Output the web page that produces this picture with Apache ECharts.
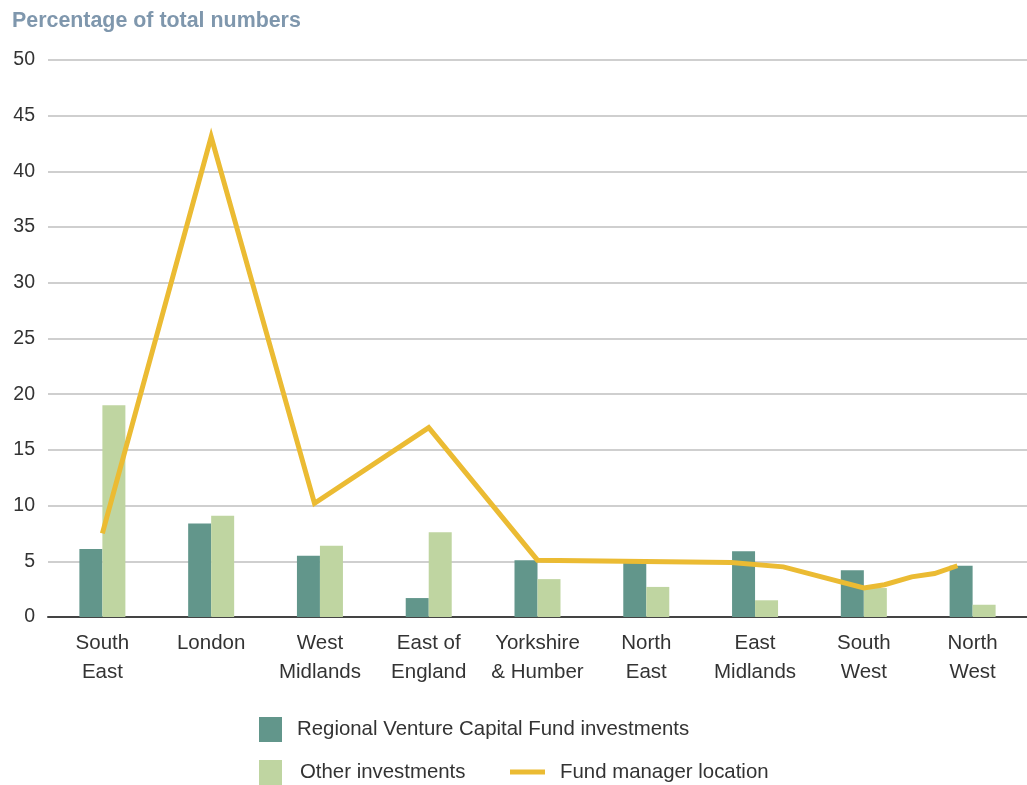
<!DOCTYPE html>
<html>
<head>
<meta charset="utf-8">
<script src="https://cdn.jsdelivr.net/npm/echarts@6/dist/echarts.min.js"></script>
<style>
html,body{margin:0;padding:0;background:#fff;}
#chart{width:1027px;height:785px;}
</style>
</head>
<body>
<div id="chart"></div>
<script>
const categories = ["South\nEast","London","West\nMidlands","East of\nEngland","Yorkshire\n& Humber","North\nEast","East\nMidlands","South\nWest","North\nWest"];
const rvcfValues = [6.1, 8.4, 5.5, 1.7, 5.1, 4.9, 5.9, 4.2, 4.6];
const otherValues = [19.0, 9.1, 6.4, 7.6, 3.4, 2.7, 1.5, 2.6, 1.1];
// Fund manager location line: positions along the category scale (index units) and values
const lineX = [0, 1, 1.95, 3, 4, 5.78, 6.26, 7.0, 7.19, 7.44, 7.65, 7.86];
const lineY = [7.5, 43.1, 10.2, 17.0, 5.1, 4.9, 4.5, 2.6, 2.9, 3.6, 3.9, 4.6];
const yTicks = {min: 0, max: 50, interval: 5};
const seriesNames = ["Regional Venture Capital Fund investments", "Other investments", "Fund manager location"];

const FONT = "'Liberation Sans', Arial, sans-serif";
const chart = echarts.init(document.getElementById('chart'));
chart.setOption({
  animation: false,
  textStyle: {fontFamily: FONT},
  title: {
    text: "Percentage of total numbers",
    left: 7, top: 6,
    textStyle: {fontFamily: FONT, fontSize: 21.4, fontWeight: 'bold', color: '#7f97ad'}
  },
  legend: [
    {data: [seriesNames[0]], left: 254, top: 712, itemWidth: 23, itemHeight: 25,
     icon: 'rect', textStyle: {fontFamily: FONT, fontSize: 20.4, color: '#333', padding: [0,0,0,10]}},
    {data: [seriesNames[1]], left: 254, top: 755, itemWidth: 23, itemHeight: 25,
     icon: 'rect', textStyle: {fontFamily: FONT, fontSize: 20.4, color: '#333', padding: [0,0,0,13]}},
    {data: [seriesNames[2]], left: 505, top: 757, itemWidth: 35, itemHeight: 5,
     icon: 'rect', textStyle: {fontFamily: FONT, fontSize: 20.4, color: '#333', padding: [0,0,0,10]}}
  ],
  grid: {left: 48, right: -8, top: 60, bottom: 168, containLabel: false},
  xAxis: [
    {type: 'category', data: categories,
     axisLine: {show: true, lineStyle: {color: '#444', width: 2}},
     axisTick: {show: false},
     axisLabel: {fontFamily: FONT, fontSize: 20.5, color: '#333', lineHeight: 29, margin: 12, interval: 0}},
    {type: 'value', min: -0.5, max: 8.5, show: false}
  ],
  yAxis: {
    type: 'value', min: yTicks.min, max: yTicks.max, interval: yTicks.interval,
    axisLine: {show: false}, axisTick: {show: false},
    axisLabel: {fontFamily: FONT, fontSize: 19.5, color: '#333', margin: 13},
    splitLine: {lineStyle: {color: '#cfcfcf', width: 2}}
  },
  series: [
    {name: seriesNames[0], type: 'bar', data: rvcfValues, barWidth: 23, barGap: '0%',
     itemStyle: {color: '#62968b'}},
    {name: seriesNames[1], type: 'bar', data: otherValues, barWidth: 23, barGap: '0%',
     itemStyle: {color: '#bfd5a1'}},
    {name: seriesNames[2], type: 'line', xAxisIndex: 1,
     data: lineX.map((x, i) => [x, lineY[i]]),
     symbol: 'none', itemStyle: {color: '#ebbb33'},
     lineStyle: {color: '#ebbb33', width: 5, join: 'miter'}, z: 5}
  ]
});
</script>
</body>
</html>
